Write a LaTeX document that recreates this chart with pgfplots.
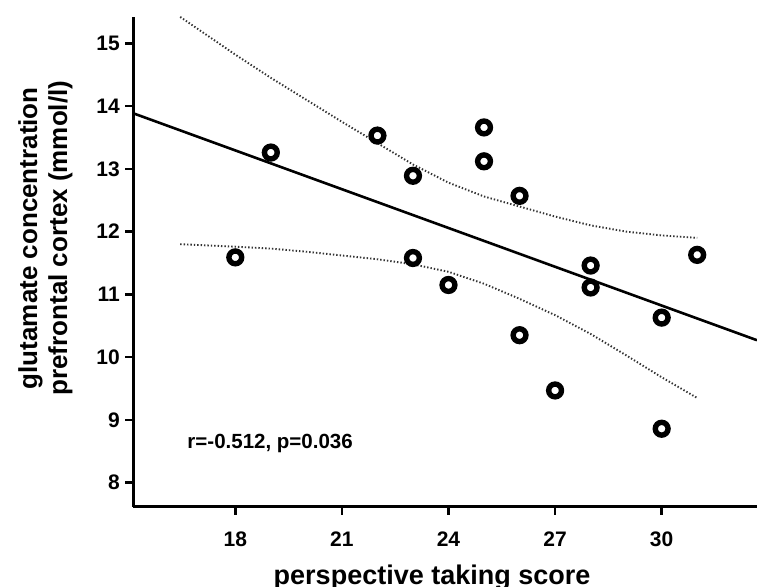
\documentclass[border=0pt]{standalone}
\usepackage{fontspec}
\setmainfont{Liberation Sans}
\usepackage{pgfplots}
\pgfplotsset{compat=1.18}

\begin{document}
\begin{tikzpicture}
\begin{axis}[
  scale only axis,
  width=623.7pt, height=490pt,
  xmin=15.129, xmax=32.683,
  ymin=7.618, ymax=15.424,
  axis x line*=bottom, axis y line*=left,
  axis line style={-, line width=2.6pt},
  xtick={18,21,24,27,30},
  ytick={8,9,10,11,12,13,14,15},
  tick align=outside,
  major tick length=8pt,
  tick style={line width=2.6pt, black},
  /pgf/number format/assume math mode=true,
  tick label style={font=\bfseries\fontsize{21}{22}\selectfont},
  xticklabel style={yshift=-14pt},
  yticklabel style={xshift=-2pt},
  xlabel={perspective taking score},
  xlabel style={at={(axis description cs:0.479,0)}, anchor=center, yshift=-71pt,
    font=\bfseries\fontsize{27}{30}\selectfont},
  ylabel={glutamate concentration\\prefrontal cortex (mmol/l)},
  ylabel style={at={(axis description cs:0,0.548)}, anchor=center, yshift=88pt,
    align=center, font=\bfseries\fontsize{26}{30}\selectfont},
]
% upper confidence band
\addplot[black!80, line width=1.9pt, dash pattern=on 1.4pt off 2pt] table {
x y
16.45 15.42
18 14.82
19 14.45
20 14.10
21 13.75
22 13.41
23 13.07
24 12.78
25 12.56
26 12.40
27 12.24
28 12.10
29 12.00
30 11.94
31 11.90
};
% lower confidence band
\addplot[black!80, line width=1.9pt, dash pattern=on 1.4pt off 2pt] table {
x y
16.45 11.80
18 11.76
19 11.73
20 11.68
21 11.62
22 11.56
23 11.48
24 11.36
25 11.17
26 10.93
27 10.67
28 10.37
29 10.03
30 9.68
31 9.35
};
% regression line
\addplot[black, line width=2.6pt] coordinates {(15.129,13.885) (32.683,10.27)};
% observations
\addplot[only marks, mark=o, mark size=6.4pt, mark options={line width=5.4pt, black}] table {
x y
18 11.59
19 13.26
22 13.53
23 12.89
23 11.58
24 11.15
25 13.66
25 13.12
26 12.57
26 10.35
27 9.47
28 11.46
28 11.11
30 10.63
30 8.86
31 11.63
};
\node[anchor=base, font=\bfseries\fontsize{20.5}{22}\selectfont, inner sep=0pt]
  at (axis cs:18.98,8.548) {r=-0.512, p=0.036};
\end{axis}
\pgfresetboundingbox
\path[use as bounding box] (-133.3pt,-79.3pt) rectangle (623.7pt,506.7pt);
\end{tikzpicture}
\end{document}
